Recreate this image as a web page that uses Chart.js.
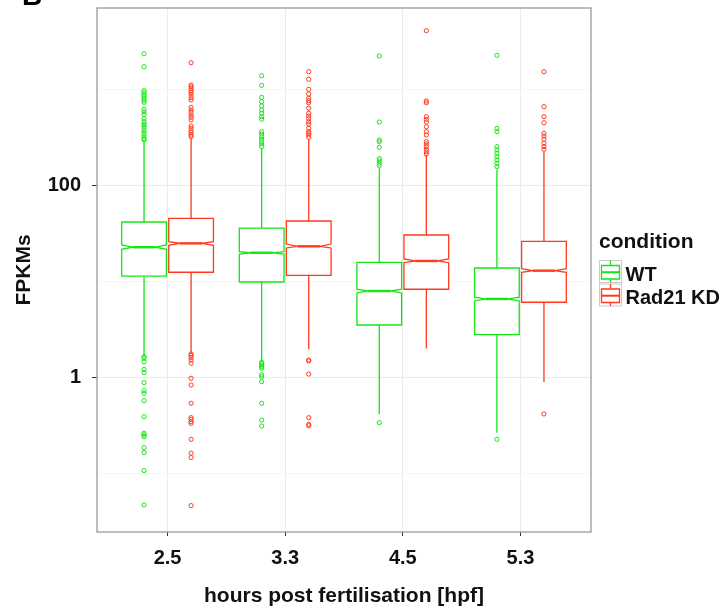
<!DOCTYPE html>
<html lang="en">
<head>
    <meta charset="utf-8">
    <title>FPKMs by hpf</title>
    <script src="https://cdn.jsdelivr.net/npm/chart.js"></script>
    <style>
        html, body { margin: 0; padding: 0; background: #fff; }
        #wrap { position: relative; width: 727px; height: 609px; }
    </style>
</head>
<body>
<div id="wrap"><canvas id="fpkmChart" width="727" height="609"></canvas></div>
<script>
    // categories and legend
    const hpfLabels = ['2.5', '3.3', '4.5', '5.3'];
    const conditions = ['WT', 'Rad21 KD'];
    // y ticks (log scale), only some get a label
    const yTicks = [0.1, 1, 10, 100, 1000];
    const yLabelled = [1, 100];

    // WT boxes
    const wtLow = [1.67, 1.48, 0.412, 0.265];
    const wtQ1 = [11.3, 9.82, 3.50, 2.78];
    const wtNotchLo = [21.5, 19.2, 7.55, 6.23];
    const wtMedian = [22.6, 19.8, 7.91, 6.54];
    const wtNotchHi = [23.9, 20.3, 8.25, 6.81];
    const wtQ3 = [41.4, 35.8, 15.75, 13.74];
    const wtHigh = [282, 242, 150, 146];

    // Rad21 KD boxes
    const kdLow = [1.78, 1.96, 1.99, 0.893];
    const kdQ1 = [12.4, 11.5, 8.25, 6.04];
    const kdNotchLo = [23.7, 22.2, 15.6, 12.4];
    const kdMedian = [24.8, 23.1, 16.25, 12.88];
    const kdNotchHi = [25.8, 24.4, 17.05, 13.5];
    const kdQ3 = [45.2, 42.4, 30.3, 26.06];
    const kdHigh = [308, 300, 206, 223];

    // outliers, one list per hpf
    const wtOutliers = [
        [2339, 1713, 964, 918, 875, 834, 796, 758, 729, 617, 582, 547, 492, 458, 434, 413, 391, 369, 347, 325, 305, 296,
         1.64, 1.58, 1.45, 1.21, 1.12, 0.879, 0.725, 0.682, 0.571, 0.389, 0.261, 0.251, 0.241, 0.185, 0.164, 0.107, 0.0468],
        [1380, 1096, 822, 740, 668, 607, 561, 517, 486, 361, 341, 320, 301, 284, 269, 252,
         1.43, 1.39, 1.34, 1.29, 1.24, 1.06, 1.01, 0.900, 0.536, 0.359, 0.311],
        [2214, 455, 296, 284, 248, 189, 179, 169, 160, 0.337],
        [2251, 391, 361, 252, 233, 215, 198, 183, 169, 156, 0.226]
    ];
    const kdOutliers = [
        [1885, 1105, 1061, 1011, 964, 918, 869, 815, 771, 647, 607, 574, 538, 509, 478, 413, 391, 369, 352, 333, 320,
         1.75, 1.69, 1.61, 1.51, 1.40, 0.976, 0.831, 0.536, 0.380, 0.365, 0.345, 0.332, 0.226, 0.162, 0.146, 0.0461],
        [1520, 1266, 996, 890, 803, 758, 722, 632, 561, 525, 492, 458, 434, 391, 361, 347, 333, 315,
         1.51, 1.48, 1.08, 0.380, 0.324, 0.313],
        [4061, 753, 722, 517, 486, 455, 406, 361, 333, 284, 269, 252, 236, 223, 211],
        [1520, 657, 517, 447, 347, 325, 301, 273, 252, 236, 0.415]
    ];

    const wtColor = '#14e614';
    const kdColor = '#ff3a1e';
    const dodge = 0.2;     // shift of each box from the category centre
    const boxHalf = 0.19;  // half box width in category units
    const fontFam = '"Liberation Sans", Arial, sans-serif';

    const groups = [
        { color: wtColor, shift: -dodge, low: wtLow, q1: wtQ1, nlo: wtNotchLo, med: wtMedian, nhi: wtNotchHi, q3: wtQ3, high: wtHigh },
        { color: kdColor, shift: dodge, low: kdLow, q1: kdQ1, nlo: kdNotchLo, med: kdMedian, nhi: kdNotchHi, q3: kdQ3, high: kdHigh }
    ];

    function outlierPoints(list, shift) {
        const pts = [];
        list.forEach((vals, i) => vals.forEach(v => pts.push({ x: i + 1 + shift, y: v })));
        return pts;
    }

    // draws the notched boxes and whiskers
    const boxPlugin = {
        id: 'notchedBoxes',
        beforeDatasetsDraw(chart) {
            const { ctx, chartArea, scales: { x, y } } = chart;
            ctx.save();
            ctx.beginPath();
            ctx.rect(chartArea.left, chartArea.top, chartArea.width, chartArea.height);
            ctx.clip();
            const half = x.getPixelForValue(1 + boxHalf) - x.getPixelForValue(1);
            groups.forEach(g => {
                ctx.strokeStyle = g.color;
                for (let i = 0; i < hpfLabels.length; i++) {
                    const cx = x.getPixelForValue(i + 1 + g.shift);
                    const l = cx - half, r = cx + half, inset = half * 0.5;
                    const yLow = y.getPixelForValue(g.low[i]);
                    const yQ1 = y.getPixelForValue(g.q1[i]);
                    const yNlo = y.getPixelForValue(g.nlo[i]);
                    const yMed = y.getPixelForValue(g.med[i]);
                    const yNhi = y.getPixelForValue(g.nhi[i]);
                    const yQ3 = y.getPixelForValue(g.q3[i]);
                    const yHigh = y.getPixelForValue(g.high[i]);
                    // whiskers
                    ctx.lineWidth = 1.3;
                    ctx.beginPath();
                    ctx.moveTo(cx, yQ3); ctx.lineTo(cx, yHigh);
                    ctx.moveTo(cx, yQ1); ctx.lineTo(cx, yLow);
                    ctx.stroke();
                    // box with notch
                    ctx.beginPath();
                    ctx.moveTo(l, yQ3);
                    ctx.lineTo(l, yNhi);
                    ctx.lineTo(l + inset, yMed);
                    ctx.lineTo(l, yNlo);
                    ctx.lineTo(l, yQ1);
                    ctx.lineTo(r, yQ1);
                    ctx.lineTo(r, yNlo);
                    ctx.lineTo(r - inset, yMed);
                    ctx.lineTo(r, yNhi);
                    ctx.lineTo(r, yQ3);
                    ctx.closePath();
                    ctx.fillStyle = '#fff';
                    ctx.fill();
                    ctx.stroke();
                    // median
                    ctx.lineWidth = 2.4;
                    ctx.beginPath();
                    ctx.moveTo(l + inset, yMed); ctx.lineTo(r - inset, yMed);
                    ctx.stroke();
                }
            });
            ctx.restore();
        },
        afterDraw(chart) {
            const { ctx, chartArea } = chart;
            ctx.save();
            // panel border
            ctx.strokeStyle = '#9a9a9a';
            ctx.lineWidth = 1.3;
            ctx.strokeRect(chartArea.left, chartArea.top, chartArea.width, chartArea.height);

            // panel letter, cut at the top edge
            ctx.fillStyle = '#000';
            ctx.font = 'bold 28px ' + fontFam;
            ctx.textAlign = 'left';
            ctx.textBaseline = 'alphabetic';
            ctx.fillText('B', 22, 5);

            // legend
            ctx.font = 'bold 21px ' + fontFam;
            ctx.fillStyle = '#111';
            ctx.fillText('condition', 599, 248);
            const colors = [wtColor, kdColor];
            conditions.forEach((name, k) => {
                const top = 260.5 + k * 23.5;
                ctx.strokeStyle = '#cccccc';
                ctx.lineWidth = 1;
                ctx.strokeRect(599.5, top, 22, 22);
                const mid = 610.5;
                ctx.strokeStyle = colors[k];
                ctx.lineWidth = 1.3;
                ctx.beginPath();
                ctx.moveTo(mid, top); ctx.lineTo(mid, top + 5);
                ctx.moveTo(mid, top + 18.5); ctx.lineTo(mid, top + 22);
                ctx.rect(601.5, top + 5, 18, 13.5);
                ctx.stroke();
                ctx.lineWidth = 2;
                ctx.beginPath();
                ctx.moveTo(601.5, top + 11.7); ctx.lineTo(619.5, top + 11.7);
                ctx.stroke();
                ctx.fillStyle = '#111';
                ctx.font = 'bold 20px ' + fontFam;
                ctx.fillText(name, 625.5, top + 20.3);
            });
            ctx.restore();
        }
    };

    const ctx = document.getElementById('fpkmChart');

    new Chart(ctx, {
        type: 'scatter',
        data: {
            datasets: [{
                label: conditions[0],
                data: outlierPoints(wtOutliers, -dodge),
                borderColor: wtColor,
                backgroundColor: 'rgba(0,0,0,0)',
                pointRadius: 2.1,
                pointBorderWidth: 1,
                pointHoverRadius: 2.1
            }, {
                label: conditions[1],
                data: outlierPoints(kdOutliers, dodge),
                borderColor: kdColor,
                backgroundColor: 'rgba(0,0,0,0)',
                pointRadius: 2.1,
                pointBorderWidth: 1,
                pointHoverRadius: 2.1
            }]
        },
        options: {
            responsive: false,
            animation: false,
            devicePixelRatio: 1,
            layout: { padding: { left: 0, right: 136, top: 8, bottom: 0 } },
            plugins: {
                legend: { display: false },
                tooltip: { enabled: false }
            },
            scales: {
                x: {
                    type: 'linear',
                    min: 0.4,
                    max: 4.6,
                    afterBuildTicks: (scale) => {
                        scale.ticks = hpfLabels.map((lab, i) => ({ value: i + 1 }));
                    },
                    afterFit: (scale) => {
                        scale.height = 77;
                        scale.paddingLeft = 0;
                        scale.paddingRight = 0;
                    },
                    ticks: {
                        autoSkip: false,
                        maxRotation: 0,
                        padding: 10,
                        color: '#111',
                        font: { family: fontFam, size: 20, weight: 'bold' },
                        callback: (v) => hpfLabels[v - 1]
                    },
                    grid: { color: '#ebebeb', tickColor: '#333', tickLength: 4, lineWidth: 1 },
                    border: { display: false },
                    title: {
                        display: true,
                        text: 'hours post fertilisation [hpf]',
                        color: '#111',
                        font: { family: fontFam, size: 21, weight: 'bold' },
                        padding: { top: 0, bottom: 0 }
                    }
                },
                y: {
                    type: 'logarithmic',
                    min: 0.02449,
                    max: 6998,
                    afterBuildTicks: (scale) => {
                        scale.ticks = yTicks.map(v => ({ value: v }));
                    },
                    afterFit: (scale) => {
                        scale.width = 97;
                        scale.paddingTop = 0;
                        scale.paddingBottom = 0;
                    },
                    ticks: {
                        autoSkip: false,
                        padding: 11,
                        color: '#111',
                        font: { family: fontFam, size: 20, weight: 'bold' },
                        callback: (v) => yLabelled.includes(v) ? String(v) : ''
                    },
                    grid: {
                        color: (c) => yLabelled.includes(c.tick.value) ? '#ebebeb' : '#f5f5f5',
                        tickColor: (c) => yLabelled.includes(c.tick.value) ? '#333' : 'rgba(0,0,0,0)',
                        tickLength: 5,
                        lineWidth: 1
                    },
                    border: { display: false },
                    title: {
                        display: true,
                        text: 'FPKMs',
                        color: '#111',
                        font: { family: fontFam, size: 21, weight: 'bold' },
                        padding: { top: 12, bottom: 0 }
                    }
                }
            }
        },
        plugins: [boxPlugin]
    });
</script>
</body>
</html>
